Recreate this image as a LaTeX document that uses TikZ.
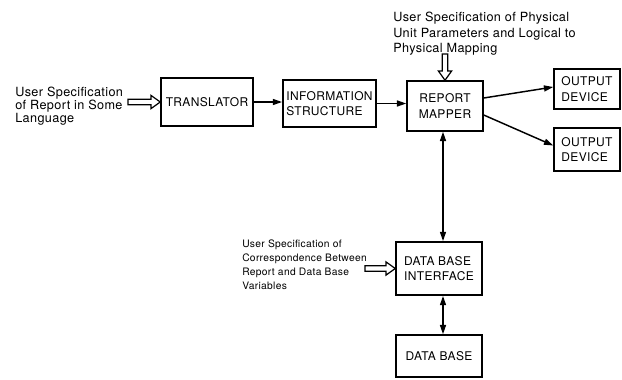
\documentclass[tikz,border=0pt]{standalone}
\usepackage{fontspec}
\setmainfont[LetterSpace=3]{TeX Gyre Heros}
\usetikzlibrary{arrows.meta, positioning, calc}

\tikzset{
  block/.style={draw, line width=1.1pt, inner sep=1.5pt, font=\fontsize{9}{11.5}\selectfont},
  flow/.style={line width=1.1pt, -{Triangle[length=7pt,width=4.5pt]}},
  bothflow/.style={line width=1.1pt, {Triangle[length=7pt,width=4.5pt]}-{Triangle[length=7pt,width=4.5pt]}},
  note/.style={anchor=north west, inner sep=0pt, align=left, font=\fontsize{9.5}{11.5}\selectfont},
}
% hollow input arrow from #1 to #2
\newcommand{\openarrow}[2]{%
  \coordinate (oa-base) at ($(#2)!7pt!(#1)$);
  \draw[line width=0.9pt, line join=miter]
    ($(#1)!2pt!90:(#2)$) -- ($(oa-base)!2pt!90:(#2)$) -- ($(oa-base)!5pt!90:(#2)$)
    -- (#2) -- ($(oa-base)!5pt!-90:(#2)$) -- ($(oa-base)!2pt!-90:(#2)$)
    -- ($(#1)!2pt!-90:(#2)$) -- cycle;
}

\begin{document}
\begin{tikzpicture}[x=0.75pt, y=-0.75pt]
    \useasboundingbox (0,0) rectangle (622,379);

    % Main chain of blocks
    \node[block, minimum width=69pt, minimum height=36pt] (trans) at (207,102) {TRANSLATOR};
    \node[block, minimum width=70pt, minimum height=35pt, align=left] (info) at (329.5,103.5) {INFORMATION\\STRUCTURE};
    \node[block, minimum width=57pt, minimum height=37.5pt, align=center] (mapper) at (445,106) {REPORT\\MAPPER};
    \node[block, minimum width=49.5pt, minimum height=30pt, align=left] (out1) at (587,89) {OUTPUT\\DEVICE};
    \node[block, minimum width=49.5pt, minimum height=32pt, align=left] (out2) at (587,149.5) {OUTPUT\\DEVICE};

    % Data base side
    \node[block, minimum width=64.5pt, minimum height=40pt, align=left] (dbi) at (439,268.5) {DATA BASE\\INTERFACE};
    \node[block, minimum width=64.5pt, minimum height=31.5pt] (db) at (439,356) {DATA BASE};

    % User specifications
    \node[note, font=\fontsize{9.5}{9.6}\selectfont] (specrep) at (15,87) {User Specification\\of Report in Some\\Language};
    \node[note, font=\fontsize{9.5}{11.6}\selectfont] (specphys) at (393,12) {User Specification of Physical\\Unit Parameters and Logical to\\Physical Mapping};
    \node[note, font=\fontsize{7.7}{10.5}\selectfont] (speccorr) at (242,240) {User Specification of\\Correspondence Between\\Report and Data Base\\Variables};

    \coordinate (in-rep) at (128,102);
    \coordinate (in-phys) at (445,54);
    \coordinate (in-corr) at (365,268.5);

    % Hollow input arrows
    \openarrow{in-rep}{trans.west}
    \openarrow{in-phys}{mapper.north}
    \openarrow{in-corr}{dbi.west}

    % Flow connectors
    \draw[flow] (trans.east) -- (trans.east -| info.west);
    \draw[flow] (info.east) -- (info.east -| mapper.west);
    \draw[flow] ($(mapper.east)+(0,-8)$) -- ($(out1.west)+(0,-2)$);
    \draw[flow] ($(mapper.east)+(0,9)$) -- ($(out2.west)+(0,-4)$);
    \draw[bothflow] ([xshift=-1.5pt]mapper.south) -- ([xshift=-1.5pt]mapper.south |- dbi.north);
    \draw[bothflow] ([xshift=3pt]dbi.south) -- ([xshift=3pt]db.north);
\end{tikzpicture}
\end{document}
